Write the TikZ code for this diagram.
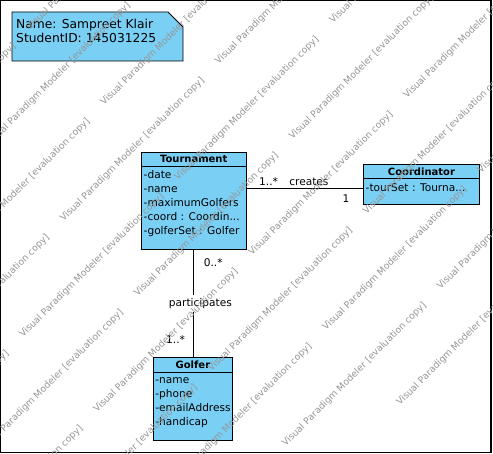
\documentclass[tikz,border=0pt]{standalone}
\usepackage{fontspec}
\setmainfont{DejaVu Sans}
\usepackage{xcolor}
\usepackage{tikz}

\definecolor{vpblue}{RGB}{122,207,245}
\definecolor{wmgray}{RGB}{150,150,150}
\newcommand{\attrfont}{\fontsize{10.6}{14.1}\selectfont}
\newcommand{\titlefont}{\fontsize{10}{12}\selectfont\bfseries}
\newcommand{\notefont}{\fontsize{12.3}{12.6}\selectfont}
\newcommand{\wmfont}{\fontsize{9.3}{11}\selectfont}

\tikzset{
  classbox/.style={draw=black, fill=vpblue, line width=0.9pt, inner sep=0pt, anchor=north west},
  classname/.style={font=\titlefont, anchor=base, inner sep=0pt},
  attrlist/.style={font=\attrfont, align=left, anchor=north west, inner sep=0pt},
  mult/.style={font=\attrfont, inner sep=0pt},
  assoc/.style={draw=black, line width=0.8pt},
  wmark/.style={font=\wmfont, text=wmgray, rotate=45, anchor=base west, inner sep=0pt}
}

\begin{document}
\begin{tikzpicture}[x=1pt, y=-1pt]
\useasboundingbox (0,0) rectangle (493,454);
\fill[white] (0,0) rectangle (493,454);
\draw[line width=1.3pt] (0.65,0.65) rectangle (491,452.3);

% Note (folded corner)
\draw[fill=vpblue, line width=0.9pt] (12,12) -- (168,12) -- (183,27) -- (183,61) -- (12,61) -- cycle;
\node[font=\notefont, align=left, anchor=north west, inner sep=0pt] (note) at (16,19)
  {\strut Name: Sampreet Klair\\StudentID: 145031225};

% Tournament
\node[classbox, minimum width=104.5, minimum height=97] (tour) at (141,152) {};
\draw[line width=0.9pt] ([yshift=-14.5pt]tour.north west) -- ([yshift=-14.5pt]tour.north east);
\node[classname] (tourname) at ([yshift=-10.8pt]tour.north) {Tournament};
\node[attrlist] (tourattr) at ([xshift=2.5pt, yshift=-16pt]tour.north west)
  {\strut-date\\-name\\-maximumGolfers\\-coord : Coordin...\\-golferSet : Golfer};

% Coordinator
\node[classbox, minimum width=116, minimum height=40] (coord) at (363,164) {};
\draw[line width=0.9pt] ([yshift=-14pt]coord.north west) -- ([yshift=-14pt]coord.north east);
\node[classname] (coordname) at ([yshift=-11.5pt]coord.north) {Coordinator};
\node[attrlist] (coordattr) at ([xshift=2.5pt, yshift=-17pt]coord.north west)
  {\strut-tourSet : Tourna...};

% Golfer
\node[classbox, minimum width=79.5, minimum height=83] (golfer) at (152.7,357) {};
\draw[line width=0.9pt] ([yshift=-15pt]golfer.north west) -- ([yshift=-15pt]golfer.north east);
\node[classname] (golfername) at ([yshift=-11.3pt]golfer.north) {Golfer};
\node[attrlist] (golferattr) at ([xshift=2.5pt, yshift=-16pt]golfer.north west)
  {\strut-name\\-phone\\-emailAddress\\-handicap};

% Associations
\coordinate (crend) at ([yshift=-4pt]coord.west);
\draw[assoc] (tour.east |- crend)
  -- node[mult, pos=0.19, anchor=base, yshift=3pt] (crmulta) {1..*}
     node[mult, pos=0.536, anchor=base, yshift=3pt] (crname) {creates}
     node[mult, pos=0.855, anchor=north, yshift=-6pt] (crmultb) {1}
  (crend);
\draw[assoc] (golfer.north |- tour.south)
  -- node[mult, pos=0.12, anchor=west, xshift=10.5pt] (ptmulta) {0..*}
     node[mult, pos=0.5, fill=white, inner sep=3pt, xshift=7.5pt] (ptname) {participates}
     node[mult, pos=0.84, anchor=east, xshift=-7.5pt] (ptmultb) {1..*}
  (golfer.north);

% Watermark (page edge crops it)
\foreach \i in {-2,...,4}
  \foreach \j in {-2,...,4}
    \node[wmark] (wm\i\j) at ({23+114.5*\i+40.5*\j}, {338-41*\i-116*\j})
      {Visual Paradigm Modeler [evaluation copy]};
\end{tikzpicture}
\end{document}
